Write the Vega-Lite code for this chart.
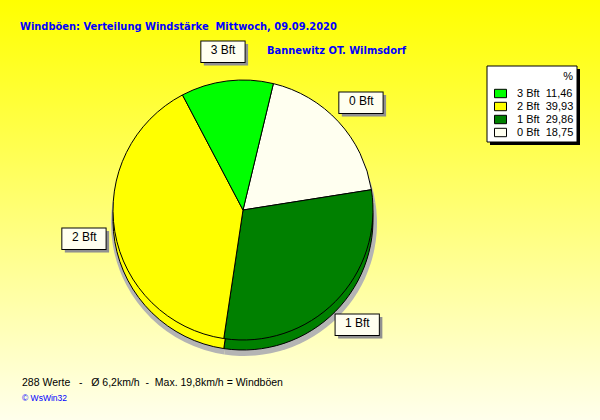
{
  "$schema": "https://vega.github.io/schema/vega-lite/v6.json",
  "width": 486,
  "height": 420,
  "autosize": {"type": "none"},
  "padding": {"left": 0, "top": 0, "right": 114, "bottom": 0},
  "background": "#FFFF80",
  "config": {"view": {"stroke": null}},
  "datasets": {
    "slices": [
      {"bft": "0 Bft", "pct": 18.75, "entry": "0 Bft\u00a0\u00a018,75"},
      {"bft": "1 Bft", "pct": 29.86, "entry": "1 Bft\u00a0\u00a029,86"},
      {"bft": "2 Bft", "pct": 39.93, "entry": "2 Bft\u00a0\u00a039,93"},
      {"bft": "3 Bft", "pct": 11.46, "entry": "3 Bft\u00a0\u00a011,46"}
    ],
    "notes": [
      {"kind": "title", "text": "Windböen: Verteilung Windstärke\u00a0 Mittwoch, 09.09.2020"},
      {"kind": "subtitle", "text": "Bannewitz OT. Wilmsdorf"},
      {"kind": "footer", "text": "288 Werte \u00a0 - \u00a0 Ø 6,2km/h \u00a0- \u00a0Max. 19,8km/h = Windböen"},
      {"kind": "copy", "text": "© WsWin32"}
    ]
  },
  "data": {"name": "slices"},
  "layer": [
    {
      "data": {"values": [{}]},
      "mark": {
        "type": "rect",
        "x": 0, "x2": 600, "y": 0, "y2": 420,
        "fill": {"gradient": "linear", "x1": 0, "y1": 0, "x2": 0, "y2": 1,
          "stops": [{"offset": 0, "color": "#FFFF00"}, {"offset": 0.35, "color": "#FFFF50"}, {"offset": 1, "color": "#FFFFEC"}]}
      },
      "encoding": {}
    },
    {
      "data": {"values": [{}]},
      "mark": {"type": "rect", "x": 490, "x2": 580, "y": 69, "y2": 145, "fill": "black"},
      "encoding": {}
    },
    {
      "data": {"values": [{}]},
      "mark": {"type": "rect", "x": 487, "x2": 577, "y": 66, "y2": 142, "fill": "white", "stroke": "black", "strokeWidth": 1},
      "encoding": {}
    },
    {
      "mark": {"type": "arc", "outerRadius": 133, "yOffset": 13, "xOffset": 1, "fill": "#B4B4B4", "stroke": null},
      "encoding": {
        "theta": {"field": "pct", "type": "quantitative", "stack": true, "scale": {"range": [0.236, 6.519]}},
        "order": {"field": "bft"}
      }
    },
    {
      "mark": {"type": "arc", "outerRadius": 130, "yOffset": 10, "stroke": "black", "strokeWidth": 1},
      "encoding": {
        "theta": {"field": "pct", "type": "quantitative", "stack": true},
        "order": {"field": "bft"},
        "color": {"field": "entry", "type": "nominal"}
      }
    },
    {
      "mark": {"type": "arc", "outerRadius": 130, "stroke": "black", "strokeWidth": 1},
      "encoding": {
        "theta": {"field": "pct", "type": "quantitative", "stack": true},
        "order": {"field": "bft"},
        "color": {
          "field": "entry", "type": "nominal",
          "scale": {
            "domain": ["3 Bft\u00a0\u00a011,46", "2 Bft\u00a0\u00a039,93", "1 Bft\u00a0\u00a029,86", "0 Bft\u00a0\u00a018,75"],
            "range": ["#00FF00", "#FFFF00", "#008000", "#FFFFF0"]
          },
          "legend": {
            "orient": "none", "legendX": 494, "legendY": 71, "padding": 0,
            "title": "%\u00a0\u00a0\u00a0\u00a0\u00a0", "titleAnchor": "end", "titleFont": "Liberation Sans", "titleFontSize": 11,
            "titleFontWeight": "normal", "titleColor": "black", "titlePadding": 5,
            "labelFont": "Liberation Sans", "labelFontSize": 11, "labelColor": "black", "labelOffset": 10,
            "symbolType": "M-1,-0.7H1V0.7H-1Z", "symbolSize": 144, "symbolStrokeColor": "black",
            "symbolStrokeWidth": 1, "symbolOpacity": 1, "rowPadding": 0
          }
        }
      }
    },
    {
      "mark": {"type": "text", "radius": 161, "text": "▬", "font": "DejaVu Sans", "fontSize": 58, "fill": "#909090", "dx": 3, "dy": 3, "baseline": "middle", "align": "center"},
      "encoding": {
        "theta": {"field": "pct", "type": "quantitative", "stack": true},
        "order": {"field": "bft"}
      }
    },
    {
      "mark": {"type": "text", "radius": 161, "text": "▬", "font": "DejaVu Sans", "fontSize": 58, "fill": "#FFFFF0", "stroke": "black", "strokeWidth": 1, "baseline": "middle", "align": "center"},
      "encoding": {
        "theta": {"field": "pct", "type": "quantitative", "stack": true},
        "order": {"field": "bft"}
      }
    },
    {
      "mark": {"type": "text", "radius": 161, "font": "Liberation Sans", "fontSize": 12, "fill": "black", "baseline": "middle", "align": "center"},
      "encoding": {
        "theta": {"field": "pct", "type": "quantitative", "stack": true},
        "order": {"field": "bft"},
        "text": {"field": "bft"}
      }
    },
    {
      "data": {"name": "notes"},
      "transform": [{"filter": "datum.kind === 'title'"}],
      "mark": {"type": "text", "x": 20, "y": 30, "align": "left", "baseline": "alphabetic", "font": "'DejaVu Sans Condensed', 'Liberation Sans Narrow', 'Liberation Sans'", "fontWeight": "bold", "fontSize": 11, "fill": "#0000FF"},
      "encoding": {"text": {"field": "text"}}
    },
    {
      "data": {"name": "notes"},
      "transform": [{"filter": "datum.kind === 'subtitle'"}],
      "mark": {"type": "text", "x": 267, "y": 54, "align": "left", "baseline": "alphabetic", "font": "'DejaVu Sans Condensed', 'Liberation Sans Narrow', 'Liberation Sans'", "fontWeight": "bold", "fontSize": 11, "fill": "#0000FF"},
      "encoding": {"text": {"field": "text"}}
    },
    {
      "data": {"name": "notes"},
      "transform": [{"filter": "datum.kind === 'footer'"}],
      "mark": {"type": "text", "x": 22, "y": 386, "align": "left", "baseline": "alphabetic", "font": "Liberation Sans", "fontSize": 10.5, "fill": "black"},
      "encoding": {"text": {"field": "text"}}
    },
    {
      "data": {"name": "notes"},
      "transform": [{"filter": "datum.kind === 'copy'"}],
      "mark": {"type": "text", "x": 22, "y": 401, "align": "left", "baseline": "alphabetic", "font": "Liberation Sans", "fontSize": 8.5, "fill": "#0000FF"},
      "encoding": {"text": {"field": "text"}}
    }
  ]
}
